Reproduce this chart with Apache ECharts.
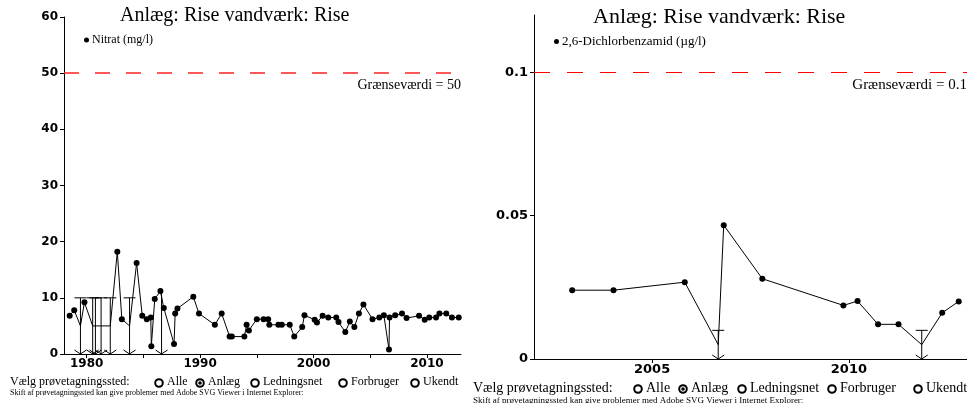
<!DOCTYPE html>
<html>
<head>
<meta charset="utf-8">
<script src="https://cdn.jsdelivr.net/npm/echarts@6/dist/echarts.min.js"></script>
<style>
  html, body { margin: 0; padding: 0; background: #fff; }
  #chart { width: 967px; height: 403px; }
</style>
</head>
<body>
<div id="chart"></div>
<script>
// Nitrat (mg/l) - målte værdier
const nitratYears = [1978.5, 1978.9, 1979.8, 1982.7, 1983.1, 1984.4, 1984.9, 1985.3, 1985.65, 1985.7,
    1986.0, 1986.5, 1986.8, 1987.7, 1987.8, 1988.0, 1989.4, 1989.9, 1991.3, 1991.9,
    1992.6, 1992.8, 1993.9, 1994.1, 1994.3, 1995.0, 1995.6, 1996.0, 1996.1, 1996.9,
    1997.2, 1997.9, 1998.3, 1999.0, 1999.2, 2000.1, 2000.3, 2000.8, 2001.3, 2002.0,
    2002.2, 2002.8, 2003.2, 2003.6, 2004.0, 2004.4, 2005.2, 2005.8, 2006.2, 2006.65,
    2006.7, 2007.2, 2007.8, 2008.2, 2009.3, 2009.8, 2010.2, 2010.8, 2011.1, 2011.7,
    2012.2, 2012.8];
const nitratValues = [6.8, 7.8, 9.2, 18.2, 6.2, 16.2, 6.8, 6.2, 6.5, 1.4,
    9.8, 11.2, 8.2, 1.8, 7.2, 8.1, 10.2, 7.2, 5.2, 7.2,
    3.1, 3.1, 3.1, 5.2, 4.2, 6.2, 6.2, 6.2, 5.2, 5.2,
    5.2, 5.2, 3.1, 4.8, 6.9, 6.1, 5.6, 6.8, 6.5, 6.5,
    5.7, 3.9, 5.8, 4.8, 7.2, 8.8, 6.2, 6.5, 6.9, 0.8,
    6.5, 6.9, 7.2, 6.4, 6.8, 6.1, 6.5, 6.5, 7.2, 7.2,
    6.5, 6.5];
// Nitrat under detektionsgrænse (mindre end)
const nitratLtYears = [1979.45, 1980.53, 1980.77, 1981.27, 1982.08, 1983.78, 1986.6];
const nitratLtLimits = [10, 10, 10, 10, 10, 10, 11.2];
const nitratLtOnLine = [1, 1, 1, 1, 1, 1, 0];

// 2,6-Dichlorbenzamid (µg/l)
const bamYears = [2002.97, 2004.02, 2005.83, 2006.82, 2007.8, 2009.86, 2010.22, 2010.74, 2011.26, 2012.37, 2012.79];
const bamValues = [0.024, 0.024, 0.0268, 0.0467, 0.028, 0.0187, 0.0202, 0.0121, 0.0121, 0.0161, 0.0201];
const bamLtYears = [2006.68, 2011.85];
const bamLtLimits = [0.01, 0.01];
const bamLtOnLine = [1, 1];

const nitratLimit = 50;
const bamLimit = 0.1;

// byg linjedata: målinger + "mindre end" punkter (halv grænse)
function buildLine(years, values, ltYears, ltLimits, ltOnLine) {
    const pts = years.map((y, i) => ({ value: [y, values[i]] }));
    ltYears.forEach((y, i) => {
        if (ltOnLine[i]) pts.push({ value: [y, ltLimits[i] / 2], symbol: 'none' });
    });
    pts.sort((a, b) => a.value[0] - b.value[0]);
    return pts;
}
function buildLt(ltYears, ltLimits, ltOnLine) {
    return ltYears.map((y, i) => [y, ltLimits[i], ltOnLine[i]]);
}

function renderLt(params, api) {
    const top = api.coord([api.value(0), api.value(1)]);
    const bot = api.coord([api.value(0), 0]);
    const st = { stroke: '#000', lineWidth: 1, fill: null };
    const children = [
        { type: 'line', shape: { x1: top[0], y1: top[1], x2: bot[0], y2: bot[1] }, style: st },
        { type: 'polyline', shape: { points: [[bot[0] - 6, bot[1] - 4], [bot[0], bot[1]], [bot[0] + 6, bot[1] - 4]] }, style: st }
    ];
    if (api.value(2)) {
        children.push({ type: 'line', shape: { x1: top[0] - 6, y1: top[1], x2: top[0] + 6, y2: top[1] }, style: st });
    }
    return { type: 'group', children: children };
}

const serif = 'Liberation Serif';
const axisFont = { fontFamily: 'DejaVu Sans', fontWeight: 'bold', color: '#000' };
const plain = v => String(v);

function radioRow(x0, y, size, small, items) {
    const els = [
        { type: 'text', left: x0, top: y - size, style: { text: 'Vælg prøvetagningssted:', font: size + 'px "' + serif + '"', fill: '#000' } },
        { type: 'text', left: x0, top: y + 1, style: { text: 'Skift af prøvetagningssted kan give problemer med Adobe SVG Viewer i Internet Explorer:', font: small + 'px "' + serif + '"', fill: '#000' } }
    ];
    items.forEach(it => {
        els.push({ type: 'circle', shape: { cx: it[0], cy: y - size / 2 + 1, r: 3.8 }, style: { fill: '#fff', stroke: '#000', lineWidth: 2 } });
        if (it[2]) els.push({ type: 'circle', shape: { cx: it[0], cy: y - size / 2 + 1, r: 1.8 }, style: { fill: '#000' } });
        els.push({ type: 'text', left: it[0] + 8, top: y - size, style: { text: it[1], font: size + 'px "' + serif + '"', fill: '#000' } });
    });
    return els;
}

var myChart = echarts.init(document.getElementById('chart'));

var option = {
    animation: false,
    title: [
        { text: 'Anlæg: Rise vandværk: Rise', left: 120, top: 6, padding: 0, textStyle: { fontFamily: serif, fontSize: 20, fontWeight: 'normal', color: '#000' } },
        { text: 'Anlæg: Rise vandværk: Rise', left: 593, top: 6, padding: 0, textStyle: { fontFamily: serif, fontSize: 22, fontWeight: 'normal', color: '#000' } }
    ],
    legend: [
        { data: ['Nitrat (mg/l)'], left: 84, top: 34, padding: 0, icon: 'circle', itemWidth: 5, itemHeight: 5, itemGap: 4,
          textStyle: { fontFamily: serif, fontSize: 12, color: '#000', padding: [0, 0, 0, -2] } },
        { data: ['2,6-Dichlorbenzamid (µg/l)'], left: 554, top: 35, padding: 0, icon: 'circle', itemWidth: 5, itemHeight: 5, itemGap: 4,
          textStyle: { fontFamily: serif, fontSize: 13, color: '#000', padding: [0, 0, 0, -2] } }
    ],
    grid: [
        { left: 64, top: 17, width: 397, height: 337 },
        { left: 534, top: 15, width: 433, height: 344 }
    ],
    xAxis: [
        { type: 'value', gridIndex: 0, min: 1978, max: 2013,
          splitLine: { show: false },
          axisLine: { lineStyle: { color: '#000', width: 1 } },
          axisTick: { customValues: [1980, 1985, 1990, 1995, 2000, 2005, 2010], length: 4, lineStyle: { color: '#000' } },
          axisLabel: Object.assign({ customValues: [1980, 1990, 2000, 2010], formatter: plain, fontSize: 12, margin: 4 }, axisFont) },
        { type: 'value', gridIndex: 1, min: 2002, max: 2013,
          splitLine: { show: false },
          axisLine: { lineStyle: { color: '#000', width: 1 } },
          axisTick: { customValues: [2005, 2010], length: 4, lineStyle: { color: '#000' } },
          axisLabel: Object.assign({ customValues: [2005, 2010], formatter: plain, fontSize: 13, margin: 4 }, axisFont) }
    ],
    yAxis: [
        { type: 'value', gridIndex: 0, min: 0, max: 60, interval: 10,
          splitLine: { show: false },
          axisLine: { show: true, lineStyle: { color: '#000', width: 1 } },
          axisTick: { show: true, length: 4, lineStyle: { color: '#000' } },
          axisLabel: Object.assign({ fontSize: 12, margin: 6 }, axisFont) },
        { type: 'value', gridIndex: 1, min: 0, max: 0.12,
          splitLine: { show: false },
          axisLine: { show: true, lineStyle: { color: '#000', width: 1 } },
          axisTick: { show: true, customValues: [0, 0.05, 0.1], length: 4, lineStyle: { color: '#000' } },
          axisLabel: Object.assign({ customValues: [0, 0.05, 0.1], formatter: plain, fontSize: 13, margin: 6 }, axisFont) }
    ],
    series: [
        {
            name: 'Nitrat (mg/l)', type: 'line', xAxisIndex: 0, yAxisIndex: 0,
            data: buildLine(nitratYears, nitratValues, nitratLtYears, nitratLtLimits, nitratLtOnLine),
            symbol: 'circle', symbolSize: 6,
            itemStyle: { color: '#000' },
            lineStyle: { color: '#000', width: 1 },
            markLine: {
                silent: true, symbol: 'none',
                lineStyle: { color: '#f22', type: [15, 16], width: 1.5 },
                label: { position: 'insideEndBottom', formatter: 'Grænseværdi = ' + nitratLimit, fontFamily: serif, fontSize: 14, color: '#000', distance: [0, 5] },
                data: [{ yAxis: nitratLimit }]
            },
            z: 3
        },
        {
            name: 'nitratLt', type: 'custom', xAxisIndex: 0, yAxisIndex: 0,
            data: buildLt(nitratLtYears, nitratLtLimits, nitratLtOnLine),
            renderItem: renderLt, z: 2
        },
        {
            name: '2,6-Dichlorbenzamid (µg/l)', type: 'line', xAxisIndex: 1, yAxisIndex: 1,
            data: buildLine(bamYears, bamValues, bamLtYears, bamLtLimits, bamLtOnLine),
            symbol: 'circle', symbolSize: 6,
            itemStyle: { color: '#000' },
            lineStyle: { color: '#000', width: 1 },
            markLine: {
                silent: true, symbol: 'none',
                lineStyle: { color: '#f00', type: [16, 17], width: 1 },
                label: { position: 'insideEndBottom', formatter: 'Grænseværdi = ' + bamLimit, fontFamily: serif, fontSize: 15, color: '#000', distance: [0, 5] },
                data: [{ yAxis: bamLimit }]
            },
            z: 3
        },
        {
            name: 'bamLt', type: 'custom', xAxisIndex: 1, yAxisIndex: 1,
            data: buildLt(bamLtYears, bamLtLimits, bamLtOnLine),
            renderItem: renderLt, z: 2
        }
    ],
    graphic: radioRow(10, 388, 12, 8, [[159, 'Alle', 0], [200, 'Anlæg', 1], [255, 'Ledningsnet', 0], [343, 'Forbruger', 0], [415, 'Ukendt', 0]])
        .concat(radioRow(473, 395, 14, 9, [[638, 'Alle', 0], [683, 'Anlæg', 1], [742, 'Ledningsnet', 0], [832, 'Forbruger', 0], [918, 'Ukendt', 0]]))
};

myChart.setOption(option);
</script>
</body>
</html>
